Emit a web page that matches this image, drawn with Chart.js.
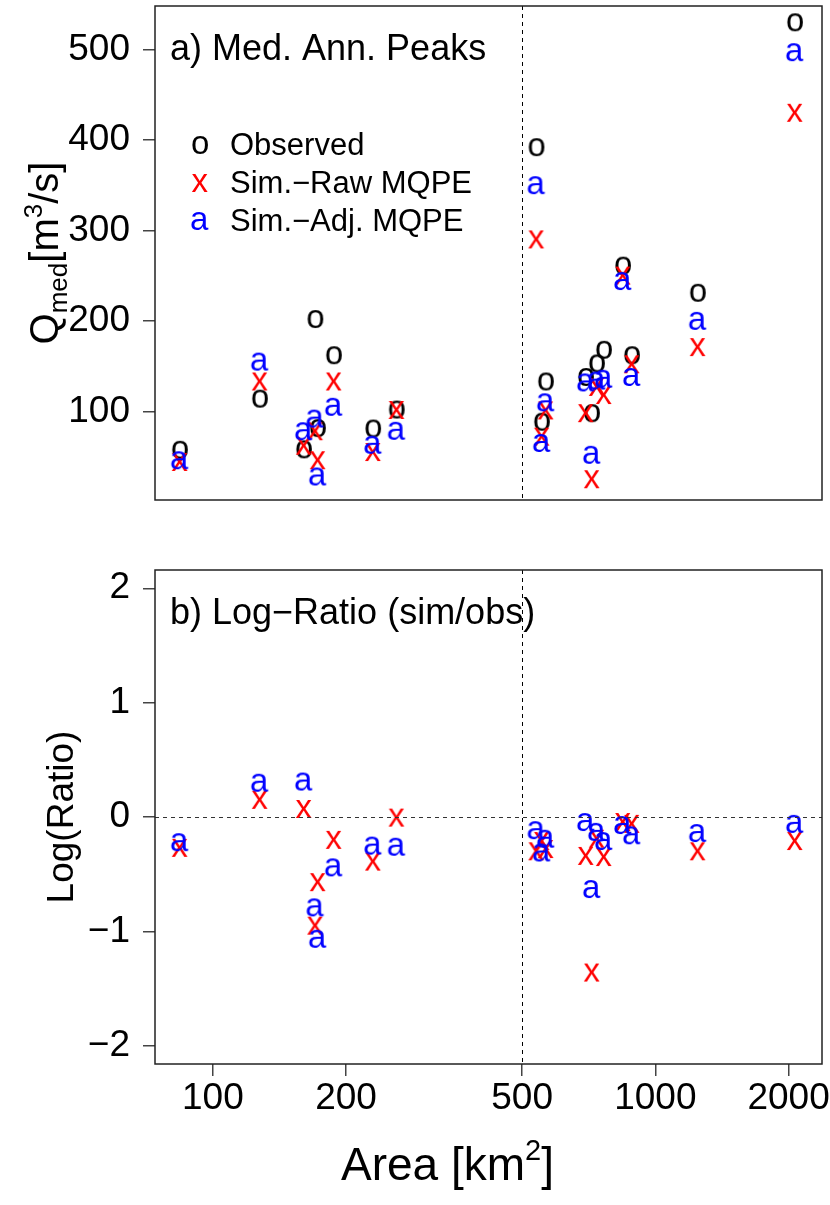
<!DOCTYPE html>
<html>
<head>
<meta charset="utf-8">
<title>Median annual peaks vs. area</title>
<script src="https://cdn.jsdelivr.net/npm/chart.js@4/dist/chart.umd.min.js"></script>
<style>
  body { margin: 0; background: #fff; }
  #wrap { position: relative; width: 830px; height: 1205px; }
  canvas { position: absolute; left: 0; }
</style>
</head>
<body>
<div id="wrap">
  <canvas id="peaks" width="830" height="560" style="top:0"></canvas>
  <canvas id="ratio" width="830" height="645" style="top:560px"></canvas>
</div>
<script>
// ── DATA ─────────────────────────────────────────────
// basin area [km2], one entry per gauge
const area   = [84.2, 127.7, 160.6, 170.4, 172.7, 187.7, 230.2, 260.2, 538.4, 554, 565.6, 696.6, 718.7, 737.7, 765, 844.8, 885, 1247, 2067];
// median annual peak flow [m3/s]
const qObs   = [57.5, 114, 58, 202, 81.5, 162, 81, 102, 392, 88.5, 133, 138, 98, 153, 168, 261, 162, 231, 530];
const qRaw   = [44, 133, 62, 78, 46, 133, 55, 101.5, 290, 72, 101, 98, 25, 127, 118, 250, 152, 171, 430];
const qAdj   = [46, 155, 78, 92, 28, 105, 63, 78.5, 350, 65, 110, 132, 52, 134, 136, 244, 138, 200, 497];
// log(sim/obs)
const lrRaw  = [-0.27, 0.15, 0.07, -0.95, -0.57, -0.20, -0.39, -0.005, -0.30, -0.21, -0.28, -0.34, -1.36, -0.19, -0.35, -0.044, -0.06, -0.30, -0.21];
const lrAdj  = [-0.22, 0.30, 0.31, -0.79, -1.065, -0.44, -0.25, -0.26, -0.115, -0.31, -0.19, -0.044, -0.63, -0.13, -0.21, -0.07, -0.16, -0.14, -0.06];

const xTicks  = [100, 200, 500, 1000, 2000];
const yTicksA = [100, 200, 300, 400, 500];
const yTicksB = [-2, -1, 0, 1, 2];
const seriesNames = ['Observed', 'Sim.\u2212Raw MQPE', 'Sim.\u2212Adj. MQPE'];

// ── STYLE ────────────────────────────────────────────
const FONT = '"Liberation Sans", Arial, Helvetica, sans-serif';
Chart.defaults.font.family = FONT;
Chart.defaults.color = '#000';

// text glyphs used as point markers, ink centred on the point
function glyph(ch, color, size) {
  const c = document.createElement('canvas');
  c.width = c.height = 44;
  const g = c.getContext('2d');
  g.font = size + 'px ' + FONT;
  g.fillStyle = color;
  const m = g.measureText(ch);
  const x = 22 - (m.actualBoundingBoxRight - m.actualBoundingBoxLeft) / 2;
  const y = 22 - (m.actualBoundingBoxDescent - m.actualBoundingBoxAscent) / 2;
  g.fillText(ch, x, y);
  return c;
}
const markObs = glyph('o', '#000000', 33);
const markRaw = glyph('x', '#ff0000', 33);
const markAdj = glyph('a', '#0000ff', 33);

const pts = ys => area.map((a, i) => ({ x: a, y: ys[i] }));
const minus = v => (v < 0 ? '\u2212' + Math.abs(v) : String(v));

// text with sub/superscripts: parts = [{t, s, dy}]
function richWidth(ctx, parts, size) {
  return parts.reduce((w, p) => {
    ctx.font = Math.round(size * (p.s || 1)) + 'px ' + FONT;
    return w + ctx.measureText(p.t).width;
  }, 0);
}
function drawRich(ctx, parts, x, y, size) {
  ctx.textAlign = 'left';
  ctx.textBaseline = 'alphabetic';
  parts.forEach(p => {
    ctx.font = Math.round(size * (p.s || 1)) + 'px ' + FONT;
    ctx.fillText(p.t, x, y + (p.dy || 0));
    x += ctx.measureText(p.t).width;
  });
}

// box, dashed reference lines, panel label, legend, axis titles
const panelDeco = {
  id: 'panelDeco',
  afterDatasetsDraw(chart, args, o) {
    const { ctx, chartArea: a, scales } = chart;
    ctx.save();
    ctx.setLineDash([4, 4]);
    ctx.lineWidth = 1;
    ctx.strokeStyle = '#000';
    const vx = Math.round(scales.x.getPixelForValue(o.vline)) + 0.5;
    ctx.beginPath(); ctx.moveTo(vx, a.top); ctx.lineTo(vx, a.bottom); ctx.stroke();
    if (o.hline !== undefined) {
      const hy = Math.round(scales.y.getPixelForValue(o.hline)) + 0.5;
      ctx.strokeStyle = '#333';
      ctx.beginPath(); ctx.moveTo(a.left, hy); ctx.lineTo(a.right, hy); ctx.stroke();
    }
    ctx.restore();
  },
  afterDraw(chart, args, o) {
    const { ctx, chartArea: a } = chart;
    ctx.save();
    ctx.lineWidth = 1.5;
    ctx.strokeStyle = '#222';
    ctx.strokeRect(a.left, a.top, a.right - a.left, a.bottom - a.top);

    ctx.fillStyle = '#000';
    ctx.font = '36px ' + FONT;
    ctx.textBaseline = 'alphabetic';
    ctx.fillText(o.title, a.left + 15, a.top + 54);

    if (o.legend) {
      const marks = [markObs, markRaw, markAdj];
      ctx.font = '31px ' + FONT;
      seriesNames.forEach((name, i) => {
        const cy = a.top + 139 + i * 38;
        ctx.drawImage(marks[i], 200 - 22, cy - 22);
        ctx.fillText(name, 230, cy + 10);
      });
    }

    // rotated y title
    const yt = o.yTitle;
    ctx.translate(yt.x, (a.top + a.bottom) / 2);
    ctx.rotate(-Math.PI / 2);
    const w = richWidth(ctx, yt.parts, yt.size);
    drawRich(ctx, yt.parts, -w / 2, 0, yt.size);
    ctx.setTransform(1, 0, 0, 1, 0, 0);

    if (o.xTitle) drawRich(ctx, o.xTitle.parts, o.xTitle.x, o.xTitle.y, o.xTitle.size);
    ctx.restore();
  }
};

function xScale(show) {
  return {
    type: 'logarithmic',
    display: show,
    min: 74, max: 2380,
    afterBuildTicks: s => { s.ticks = xTicks.map(v => ({ value: v })); },
    afterFit: s => { if (show) { s.height = 141; } s.paddingLeft = 0; s.paddingRight = 0; },
    grid: { drawOnChartArea: false, tickLength: 12, color: '#444', lineWidth: 1.5 },
    border: { display: false },
    ticks: { font: { size: 37 }, padding: 1, maxRotation: 0, autoSkip: false, callback: v => String(v) }
  };
}
function yScale(min, max, ticks) {
  return {
    type: 'linear',
    min: min, max: max,
    afterBuildTicks: s => { s.ticks = ticks.map(v => ({ value: v })); },
    afterFit: s => { s.width = 155; s.paddingTop = 0; s.paddingBottom = 0; },
    grid: { drawOnChartArea: false, tickLength: 12, color: '#444', lineWidth: 1.5 },
    border: { display: false },
    ticks: { font: { size: 37 }, padding: 13, callback: v => minus(v) }
  };
}
const markerSet = (label, data, mark, order) => ({
  label: label, data: data, pointStyle: mark, pointRadius: 4, order: order, showLine: false
});

// ── PANEL A: median annual peaks ─────────────────────
new Chart(document.getElementById('peaks'), {
  type: 'scatter',
  data: {
    datasets: [
      markerSet(seriesNames[0], pts(qObs), markObs, 3),
      markerSet(seriesNames[1], pts(qRaw), markRaw, 2),
      markerSet(seriesNames[2], pts(qAdj), markAdj, 1)
    ]
  },
  options: {
    responsive: false, animation: false, events: [],
    layout: { padding: { left: 0, top: 6, right: 8, bottom: 60 } },
    scales: { x: xScale(false), y: yScale(2, 548, yTicksA) },
    plugins: {
      legend: { display: false }, tooltip: { enabled: false },
      panelDeco: {
        title: 'a) Med. Ann. Peaks', vline: 500, legend: true,
        yTitle: { x: 58, size: 40, parts: [
          { t: 'Q' }, { t: 'med', s: 0.65, dy: 9 }, { t: '[m' }, { t: '3', s: 0.65, dy: -16 }, { t: '/s]' }
        ] }
      }
    }
  },
  plugins: [panelDeco]
});

// ── PANEL B: log ratio ───────────────────────────────
new Chart(document.getElementById('ratio'), {
  type: 'scatter',
  data: {
    datasets: [
      markerSet(seriesNames[1], pts(lrRaw), markRaw, 2),
      markerSet(seriesNames[2], pts(lrAdj), markAdj, 1)
    ]
  },
  options: {
    responsive: false, animation: false, events: [],
    layout: { padding: { left: 0, top: 10, right: 8, bottom: 0 } },
    scales: { x: xScale(true), y: yScale(-2.16, 2.16, yTicksB) },
    plugins: {
      legend: { display: false }, tooltip: { enabled: false },
      panelDeco: {
        title: 'b) Log\u2212Ratio (sim/obs)', vline: 500, hline: 0,
        yTitle: { x: 73, size: 37, parts: [{ t: 'Log(Ratio)' }] },
        xTitle: { x: 341, y: 620, size: 46, parts: [
          { t: 'Area [km' }, { t: '2', s: 0.62, dy: -20 }, { t: ']' }
        ] }
      }
    }
  },
  plugins: [panelDeco]
});
</script>
</body>
</html>
